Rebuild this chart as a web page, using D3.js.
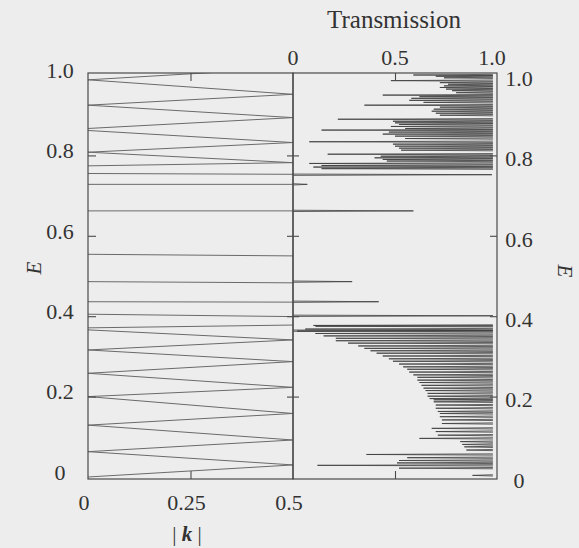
<!DOCTYPE html>
<html><head><meta charset="utf-8">
<script src="https://cdn.jsdelivr.net/npm/d3@7"></script>
<style>
html,body{margin:0;padding:0;background:#ededed;}
svg{display:block;}
text, tspan{font-family:"Liberation Serif","Times New Roman",serif;fill:#333333;}
</style></head><body>
<svg id="chart" width="579" height="548"></svg>
<script>
// Dispersion segments: energy at |k| = 0 and at |k| = 0.5 for each straight branch
const bandEAtZero = [0.000, 0.063, 0.063, 0.129, 0.129, 0.200, 0.200, 0.258, 0.258, 0.316, 0.316, 0.366, 0.371,
                     0.405, 0.436, 0.486, 0.554, 0.662, 0.728, 0.755,
                     0.774, 0.808, 0.808, 0.862, 0.867, 0.925, 0.925, 0.988, 0.988];
const bandEAtHalf = [0.030, 0.030, 0.092, 0.092, 0.158, 0.158, 0.223, 0.223, 0.287, 0.287, 0.341, 0.341, 0.378,
                     0.399, 0.435, 0.483, 0.550, 0.662, 0.728, 0.753,
                     0.782, 0.782, 0.832, 0.832, 0.894, 0.894, 0.952, 0.952, 1.018];

// Transmission dips inside the allowed bands: energy and minimum transmission
const dipE = [0.004, 0.022, 0.029, 0.035, 0.041, 0.048, 0.056, 0.067, 0.075, 0.081, 0.088, 0.096, 0.104, 0.113, 0.121,
              0.133, 0.142, 0.150, 0.158, 0.163, 0.171, 0.179, 0.187, 0.192, 0.195, 0.201, 0.208, 0.215, 0.221,
              0.228, 0.235, 0.241, 0.248, 0.254, 0.261, 0.268, 0.274, 0.281, 0.288, 0.294, 0.301, 0.308, 0.314,
              0.320, 0.326, 0.333, 0.339, 0.345, 0.351, 0.357, 0.363, 0.368, 0.375, 0.377,
              0.767, 0.771, 0.775, 0.780, 0.786, 0.790, 0.794, 0.798, 0.803, 0.813, 0.818, 0.823, 0.828, 0.834,
              0.842, 0.848, 0.853, 0.858, 0.863, 0.867, 0.872, 0.877, 0.881, 0.885, 0.890, 0.900, 0.905, 0.910,
              0.915, 0.920, 0.925, 0.932, 0.937, 0.942, 0.946, 0.950, 0.956, 0.961, 0.965, 0.969, 0.973, 0.977,
              0.981, 0.986, 0.993, 0.997, 1.000];
const dipT = [0.88, 0.52, 0.12, 0.51, 0.52, 0.56, 0.36, 0.85, 0.84, 0.83, 0.82, 0.62, 0.71, 0.70, 0.68,
              0.73, 0.73, 0.72, 0.72, 0.71, 0.70, 0.70, 0.69, 0.69, 0.67, 0.66, 0.66, 0.65, 0.64,
              0.63, 0.62, 0.61, 0.61, 0.59, 0.57, 0.56, 0.54, 0.52, 0.49, 0.47, 0.44, 0.41, 0.38,
              0.35, 0.32, 0.27, 0.21, 0.21, 0.15, 0.11, 0.02, 0.06, 0.11, 0.10,
              0.14, 0.10, 0.14, 0.08, 0.46, 0.44, 0.40, 0.43, 0.17, 0.53, 0.52, 0.50, 0.49, 0.08,
              0.55, 0.50, 0.44, 0.47, 0.14, 0.55, 0.48, 0.52, 0.50, 0.49, 0.22, 0.72, 0.70, 0.68,
              0.69, 0.72, 0.35, 0.64, 0.57, 0.58, 0.62, 0.44, 0.80, 0.78, 0.75, 0.72, 0.74, 0.76,
              0.72, 0.48, 0.74, 0.70, 0.59];

// Isolated resonances inside the gaps: energy and peak transmission
const spikeE = [0.364, 0.401, 0.436, 0.486, 0.662, 0.728, 0.752];
const spikeT = [0.98, 0.98, 0.42, 0.29, 0.59, 0.07, 0.975];

// Transmission maximum between dips
const peakT = 0.98;

const kTicks = [0, 0.25, 0.5];
const kTickLabels = ["0", "0.25", "0.5"];
const tTicks = [0, 0.5, 1];
const tTickLabels = ["0", "0.5", "1.0"];
const eTicks = [0, 0.2, 0.4, 0.6, 0.8, 1];
const eTickLabels = ["0", "0.2", "0.4", "0.6", "0.8", "1.0"];

const svg = d3.select("#chart");
const L = 88, M = 293, R = 497, T = 73, B = 479;
const labelSize = 22;
const ink = "#333333";

const kScale = d3.scaleLinear().domain([0, 0.5]).range([L, M]);
const tScale = d3.scaleLinear().domain([0, 1]).range([M, R]);
const eScale = d3.scaleLinear().domain([-0.005, 1.005]).range([B, T]);

svg.append("rect").attr("width", 579).attr("height", 548).attr("fill", "#ededed");

const defs = svg.append("defs");
defs.append("clipPath").attr("id", "clipBands")
  .append("rect").attr("x", L).attr("y", T).attr("width", M - L).attr("height", B - T);
defs.append("clipPath").attr("id", "clipTrans")
  .append("rect").attr("x", M).attr("y", T).attr("width", R - M).attr("height", B - T);

// Band structure branches
svg.append("g").attr("clip-path", "url(#clipBands)")
  .selectAll("line").data(d3.range(bandEAtZero.length)).join("line")
  .attr("x1", kScale(0)).attr("x2", kScale(0.5))
  .attr("y1", i => eScale(bandEAtZero[i])).attr("y2", i => eScale(bandEAtHalf[i]))
  .attr("stroke", "#6a6a6a").attr("stroke-width", 1);

// Transmission curve: narrow dips from the maximum, narrow spikes from zero
const w = 0.0016;
const dipPath = d3.range(dipE.length).map(i => {
  const e = dipE[i];
  return `M${tScale(peakT)},${eScale(e - w)}L${tScale(dipT[i])},${eScale(e)}L${tScale(peakT)},${eScale(e + w)}`;
}).join("");
const spikePath = d3.range(spikeE.length).map(i => {
  const e = spikeE[i];
  return `M${tScale(0)},${eScale(e - w)}L${tScale(spikeT[i])},${eScale(e)}L${tScale(0)},${eScale(e + w)}`;
}).join("");
const tg = svg.append("g").attr("clip-path", "url(#clipTrans)");
tg.append("path").attr("d", dipPath).attr("fill", "none").attr("stroke", "#3c3c3c").attr("stroke-width", 0.8);
tg.append("path").attr("d", spikePath).attr("fill", "none").attr("stroke", "#3c3c3c").attr("stroke-width", 0.8);

// Panel frames
svg.append("rect").attr("x", L).attr("y", T).attr("width", M - L).attr("height", B - T)
  .attr("fill", "none").attr("stroke", "#4a4a4a").attr("stroke-width", 1.2);
svg.append("rect").attr("x", M).attr("y", T).attr("width", R - M).attr("height", B - T)
  .attr("fill", "none").attr("stroke", "#4a4a4a").attr("stroke-width", 1.2);

// Tick marks
function ticks(axis, tx, ty) {
  const g = svg.append("g").attr("transform", `translate(${tx},${ty})`).call(axis);
  g.select(".domain").remove();
  g.selectAll("text").remove();
  g.selectAll("line").attr("stroke", "#4a4a4a").attr("stroke-width", 1.1);
}
const innerE = eTicks.filter(d => d > 0 && d < 1);
ticks(d3.axisRight(eScale).tickValues(innerE).tickSize(8), L, 0);
ticks(d3.axisLeft(eScale).tickValues(innerE).tickSize(6), M, 0);
ticks(d3.axisRight(eScale).tickValues(innerE).tickSize(6), M, 0);
ticks(d3.axisLeft(eScale).tickValues(innerE).tickSize(7), R, 0);
ticks(d3.axisBottom(kScale).tickValues([0.25]).tickSize(8), 0, T);
ticks(d3.axisTop(kScale).tickValues([0.25]).tickSize(8), 0, B);
ticks(d3.axisBottom(tScale).tickValues([0.5]).tickSize(8), 0, T);
ticks(d3.axisTop(tScale).tickValues([0.5]).tickSize(8), 0, B);

// Tick labels
svg.append("g").selectAll("text").data(eTicks).join("text")
  .attr("x", L - 28).attr("y", d => eScale(d) - 5).attr("dy", "0.35em")
  .attr("text-anchor", "middle").attr("font-size", labelSize).attr("fill", ink)
  .text((d, i) => eTickLabels[i]);
svg.append("g").selectAll("text").data(eTicks).join("text")
  .attr("x", R + 22).attr("y", d => eScale(d) + 3).attr("dy", "0.35em")
  .attr("text-anchor", "middle").attr("font-size", labelSize).attr("fill", ink)
  .text((d, i) => eTickLabels[i]);
svg.append("g").selectAll("text").data(kTicks).join("text")
  .attr("x", d => kScale(d) - 4).attr("y", 510)
  .attr("text-anchor", "middle").attr("font-size", labelSize).attr("fill", ink)
  .text((d, i) => kTickLabels[i]);
svg.append("g").selectAll("text").data(tTicks).join("text")
  .attr("x", d => tScale(d) - (d === 1 ? 5 : 0)).attr("y", 65)
  .attr("text-anchor", "middle").attr("font-size", labelSize).attr("fill", ink)
  .text((d, i) => tTickLabels[i]);

// Axis titles
svg.append("text").attr("x", 394).attr("y", 28).attr("text-anchor", "middle")
  .attr("font-size", 25).attr("fill", ink).text("Transmission");
const kt = svg.append("text").attr("x", 187).attr("y", 541).attr("text-anchor", "middle")
  .attr("font-size", 21).attr("fill", ink);
kt.append("tspan").attr("fill", ink).text("| ");
kt.append("tspan").attr("fill", ink).attr("font-weight", "bold").attr("font-style", "italic").text("k");
kt.append("tspan").attr("fill", ink).text(" |");
svg.append("text").attr("transform", "translate(34,268) rotate(-90)").attr("dy", "0.35em")
  .attr("text-anchor", "middle").attr("font-size", 21).attr("font-style", "italic").attr("fill", ink).text("E");
svg.append("text").attr("transform", "translate(565,271) rotate(90)").attr("dy", "0.35em")
  .attr("text-anchor", "middle").attr("font-size", 21).attr("font-style", "italic").attr("fill", ink).text("E");
</script>
</body></html>
